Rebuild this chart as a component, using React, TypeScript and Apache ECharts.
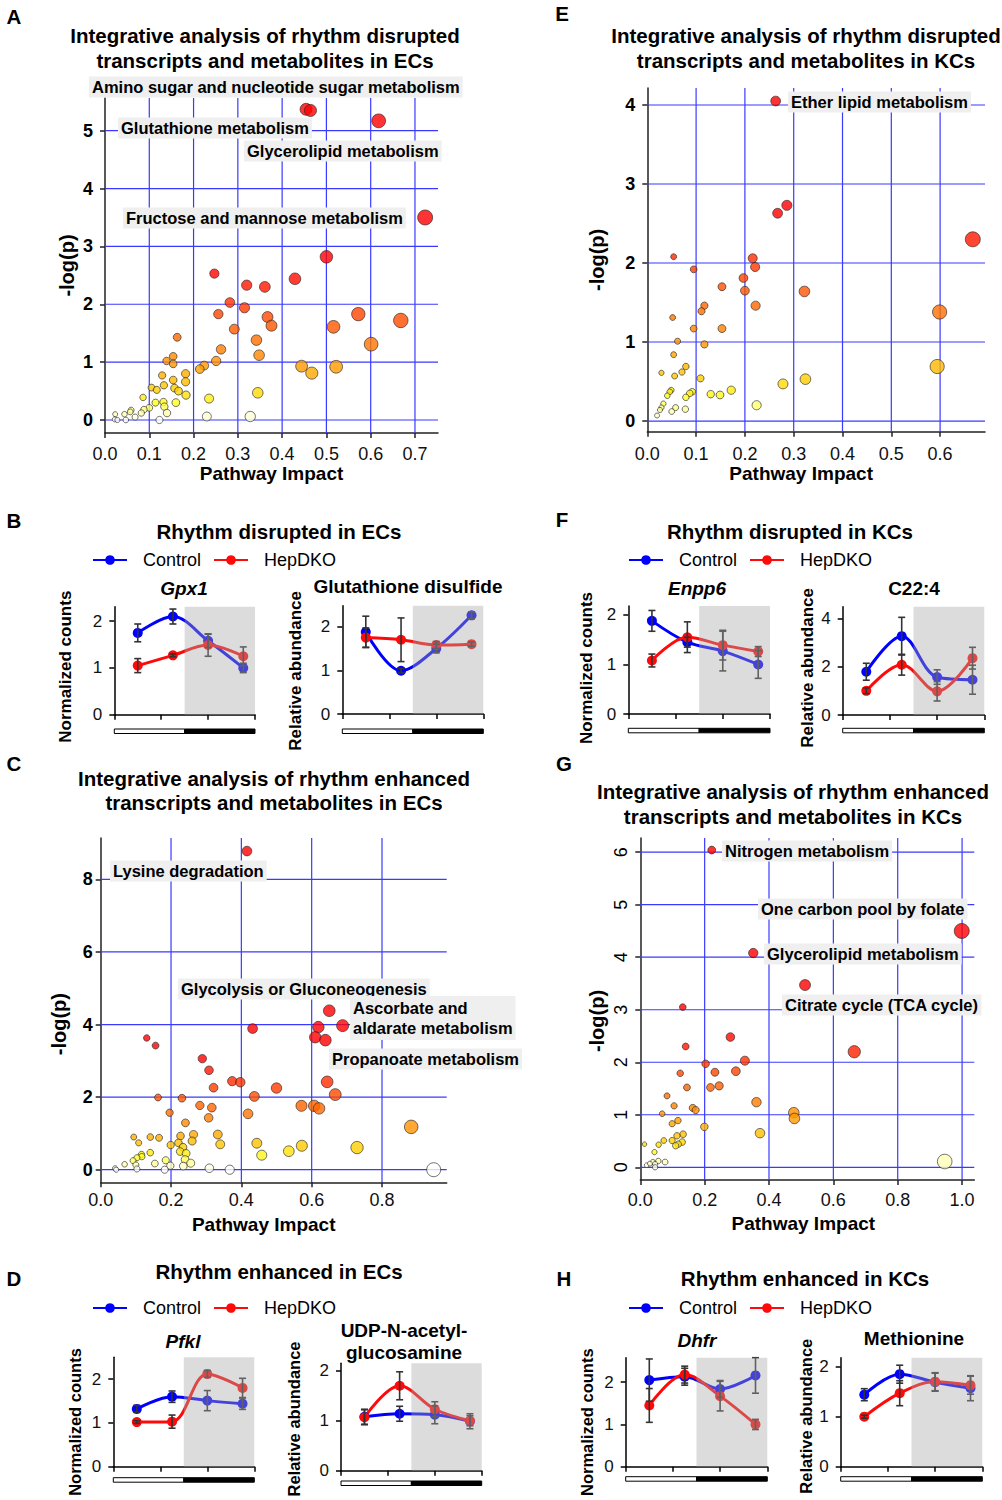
import React, { useEffect, useRef } from 'react';
import * as echarts from 'echarts';

const FONT = '"Liberation Sans", Arial, Helvetica, sans-serif';
const BLUE = '#0000ff';
const RED = '#ff0a0a';
const GRID_BLUE = '#3a3aff';
const AXIS = '#222';

// ---------- Pathway scatter data: [pathway impact, -log(p)] ----------
const ecDisruptedPathways: number[][] = [
  [0.454, 5.37], [0.464, 5.35], [0.618, 5.17], [0.723, 3.5], [0.5, 2.82], [0.247, 2.53], [0.429, 2.44],
  [0.32, 2.33], [0.361, 2.3], [0.282, 2.03], [0.315, 1.94], [0.256, 1.83], [0.572, 1.83], [0.367, 1.78],
  [0.668, 1.72], [0.376, 1.63], [0.516, 1.61], [0.292, 1.57], [0.601, 1.31], [0.342, 1.38], [0.163, 1.43],
  [0.262, 1.22], [0.348, 1.12], [0.154, 1.1], [0.139, 1.02], [0.154, 0.97], [0.251, 1.02], [0.224, 0.94],
  [0.214, 0.88], [0.444, 0.93], [0.467, 0.81], [0.522, 0.92], [0.129, 0.77], [0.182, 0.8], [0.154, 0.69],
  [0.182, 0.66], [0.133, 0.6], [0.105, 0.56], [0.117, 0.52], [0.157, 0.55], [0.166, 0.5], [0.183, 0.43],
  [0.345, 0.47], [0.235, 0.37], [0.086, 0.39], [0.114, 0.3], [0.132, 0.31], [0.16, 0.3], [0.134, 0.23],
  [0.1, 0.21], [0.088, 0.18], [0.14, 0.12], [0.082, 0.12], [0.059, 0.17], [0.057, 0.14], [0.044, 0.1],
  [0.023, 0.1], [0.23, 0.06], [0.328, 0.06], [0.068, 0.05], [0.022, 0.01], [0.028, 0.0], [0.047, 0.0],
  [0.123, 0.0],
];
const kcDisruptedPathways: number[][] = [
  [0.263, 4.05], [0.667, 2.3], [0.286, 2.73], [0.267, 2.63], [0.216, 2.06], [0.221, 1.95], [0.054, 2.08],
  [0.095, 1.92], [0.197, 1.81], [0.153, 1.7], [0.2, 1.65], [0.322, 1.64], [0.222, 1.46], [0.117, 1.46],
  [0.111, 1.39], [0.599, 1.38], [0.052, 1.31], [0.095, 1.17], [0.153, 1.17], [0.062, 1.01], [0.117, 0.97],
  [0.054, 0.84], [0.594, 0.69], [0.079, 0.69], [0.071, 0.62], [0.029, 0.61], [0.056, 0.57], [0.109, 0.54],
  [0.324, 0.53], [0.278, 0.47], [0.172, 0.39], [0.13, 0.34], [0.149, 0.33], [0.092, 0.37], [0.087, 0.35],
  [0.049, 0.39], [0.046, 0.37], [0.041, 0.32], [0.079, 0.3], [0.224, 0.2], [0.033, 0.22], [0.029, 0.17],
  [0.026, 0.14], [0.058, 0.17], [0.078, 0.15], [0.05, 0.12], [0.02, 0.07],
];
const ecEnhancedPathways: number[][] = [
  [0.416, 8.78], [0.65, 4.38], [0.688, 3.97], [0.619, 3.93], [0.61, 3.65], [0.639, 3.57], [0.432, 3.89],
  [0.131, 3.63], [0.156, 3.42], [0.289, 3.06], [0.308, 2.74], [0.374, 2.44], [0.397, 2.41], [0.644, 2.42],
  [0.321, 2.26], [0.5, 2.25], [0.667, 2.07], [0.437, 2.02], [0.163, 1.99], [0.231, 1.97], [0.571, 1.76],
  [0.607, 1.76], [0.621, 1.69], [0.282, 1.77], [0.316, 1.71], [0.196, 1.57], [0.419, 1.54], [0.307, 1.43],
  [0.241, 1.29], [0.883, 1.18], [0.333, 0.97], [0.264, 0.97], [0.227, 0.93], [0.094, 0.9], [0.141, 0.9],
  [0.166, 0.88], [0.108, 0.74], [0.26, 0.79], [0.221, 0.74], [0.444, 0.73], [0.34, 0.7], [0.572, 0.66],
  [0.729, 0.61], [0.199, 0.68], [0.234, 0.62], [0.226, 0.5], [0.535, 0.51], [0.458, 0.4], [0.243, 0.45],
  [0.141, 0.47], [0.116, 0.42], [0.117, 0.36], [0.103, 0.33], [0.24, 0.28], [0.185, 0.26], [0.092, 0.25],
  [0.256, 0.18], [0.154, 0.17], [0.1, 0.13], [0.068, 0.15], [0.198, 0.11], [0.235, 0.1], [0.309, 0.04],
  [0.367, 0.0], [0.182, 0.0], [0.103, 0.02], [0.041, 0.04], [0.044, 0.0], [0.947, 0.0],
];
const kcEnhancedPathways: number[][] = [
  [0.222, 6.04], [0.999, 4.5], [0.351, 4.08], [0.512, 3.47], [0.132, 3.05], [0.28, 2.48], [0.141, 2.3],
  [0.665, 2.2], [0.325, 2.03], [0.203, 1.97], [0.232, 1.81], [0.297, 1.83], [0.124, 1.79], [0.218, 1.52],
  [0.245, 1.55], [0.145, 1.52], [0.361, 1.24], [0.083, 1.36], [0.105, 1.17], [0.163, 1.13], [0.172, 1.09],
  [0.477, 1.04], [0.479, 0.93], [0.068, 1.02], [0.117, 0.89], [0.099, 0.83], [0.199, 0.77], [0.133, 0.63],
  [0.114, 0.6], [0.372, 0.65], [0.073, 0.51], [0.099, 0.51], [0.13, 0.48], [0.118, 0.44], [0.11, 0.41],
  [0.013, 0.44], [0.057, 0.43], [0.044, 0.29], [0.946, 0.11], [0.077, 0.1], [0.056, 0.12], [0.039, 0.1],
  [0.02, 0.04], [0.046, 0.06], [0.03, 0.07], [0.046, 0.0],
];

// ---------- Tick values ----------
const xTicksA = [0, 0.1, 0.2, 0.3, 0.4, 0.5, 0.6, 0.7];
const yTicksA = [0, 1, 2, 3, 4, 5];
const xTicksE = [0, 0.1, 0.2, 0.3, 0.4, 0.5, 0.6];
const yTicksE = [0, 1, 2, 3, 4];
const xTicksC = [0, 0.2, 0.4, 0.6, 0.8];
const yTicksC = [0, 2, 4, 6, 8];
const xTicksG = [0, 0.2, 0.4, 0.6, 0.8, 1.0];
const yTicksG = [0, 1, 2, 3, 4, 5, 6];

// ---------- Time-course data (ZT) ----------
const zt = [4, 10, 16, 22];
const ztTicks = [0, 8, 16, 24];
const gpx1Control = [1.75, 2.1, 1.58, 1.0];
const gpx1ControlSem = [0.19, 0.16, 0.14, 0.1];
const gpx1HepDKO = [1.05, 1.27, 1.49, 1.25];
const gpx1HepDKOSem = [0.15, 0.03, 0.24, 0.2];
const gssgControl = [1.88, 0.99, 1.5, 2.26];
const gssgControlSem = [0.36, 0.05, 0.1, 0.08];
const gssgHepDKO = [1.75, 1.7, 1.58, 1.6];
const gssgHepDKOSem = [0.22, 0.5, 0.08, 0.05];
const enpp6Control = [1.88, 1.45, 1.27, 1.0];
const enpp6ControlSem = [0.21, 0.1, 0.4, 0.28];
const enpp6HepDKO = [1.08, 1.55, 1.39, 1.26];
const enpp6HepDKOSem = [0.13, 0.31, 0.3, 0.1];
const c224Control = [1.79, 3.26, 1.57, 1.46];
const c224ControlSem = [0.35, 0.78, 0.3, 0.6];
const c224HepDKO = [1.0, 2.08, 0.98, 2.35];
const c224HepDKOSem = [0.12, 0.43, 0.4, 0.45];
const pfklControl = [1.32, 1.6, 1.51, 1.44];
const pfklControlSem = [0.08, 0.13, 0.23, 0.13];
const pfklHepDKO = [1.02, 1.03, 2.12, 1.8];
const pfklHepDKOSem = [0.03, 0.15, 0.08, 0.22];
const udpControl = [1.08, 1.14, 1.12, 0.99];
const udpControlSem = [0.15, 0.15, 0.18, 0.15];
const udpHepDKO = [1.07, 1.7, 1.23, 1.0];
const udpHepDKOSem = [0.15, 0.28, 0.15, 0.1];
const dhfrControl = [2.05, 2.13, 1.84, 2.16];
const dhfrControlSem = [0.5, 0.2, 0.2, 0.42];
const dhfrHepDKO = [1.45, 2.18, 1.67, 1.0];
const dhfrHepDKOSem = [0.4, 0.2, 0.35, 0.12];
const metControl = [1.44, 1.85, 1.69, 1.57];
const metControlSem = [0.12, 0.18, 0.18, 0.25];
const metHepDKO = [1.0, 1.47, 1.7, 1.63];
const metHepDKOSem = [0.03, 0.25, 0.18, 0.18];

// ---------- helpers ----------
const heatStops: [number, number[]][] = [
  [0, [255, 255, 255]], [0.12, [255, 255, 176]], [0.3, [255, 255, 32]], [0.5, [255, 210, 0]],
  [0.75, [255, 176, 0]], [1.0, [255, 146, 0]], [1.4, [255, 108, 0]], [1.8, [255, 70, 0]],
  [2.2, [255, 32, 0]], [2.6, [255, 0, 0]],
];
function heat(v: number): string {
  if (v <= 0) return 'rgb(255,255,255)';
  for (let i = 1; i < heatStops.length; i++) {
    const [b, cb] = heatStops[i];
    const [a, ca] = heatStops[i - 1];
    if (v <= b) {
      const t = (v - a) / (b - a);
      const c = ca.map((x, k) => Math.round(x + (cb[k] - x) * t));
      return `rgb(${c[0]},${c[1]},${c[2]})`;
    }
  }
  return 'rgb(255,0,0)';
}

const gridRender = (params: any, api: any) => {
  const cs = params.coordSys;
  const o = api.value(0);
  const v = api.value(1);
  const style = { stroke: GRID_BLUE, lineWidth: 1.2 };
  if (o === 0) {
    const x = api.coord([v, 0])[0];
    return { type: 'line', shape: { x1: x, y1: cs.y, x2: x, y2: cs.y + cs.height }, style };
  }
  const y = api.coord([0, v])[1];
  return { type: 'line', shape: { x1: cs.x, y1: y, x2: cs.x + cs.width, y2: y }, style };
};

const errRender = (params: any, api: any) => {
  const x = api.value(0);
  const lo = api.coord([x, api.value(1)]);
  const hi = api.coord([x, api.value(2)]);
  const w = 3.5;
  const style = { stroke: '#333', lineWidth: 1.6 };
  return {
    type: 'group',
    children: [
      { type: 'line', shape: { x1: hi[0], y1: hi[1], x2: lo[0], y2: lo[1] }, style },
      { type: 'line', shape: { x1: hi[0] - w, y1: hi[1], x2: hi[0] + w, y2: hi[1] }, style },
      { type: 'line', shape: { x1: lo[0] - w, y1: lo[1], x2: lo[0] + w, y2: lo[1] }, style },
    ],
  };
};

const shadeRender = (params: any, api: any) => {
  const cs = params.coordSys;
  const a = api.coord([api.value(0), 0])[0];
  const b = api.coord([api.value(1), 0])[0];
  return {
    type: 'rect',
    shape: { x: a, y: cs.y, width: b - a, height: cs.height },
    style: { fill: 'rgba(168,168,168,0.4)' },
  };
};

const makeBarRender = (offset: number) => (params: any, api: any) => {
  const cs = params.coordSys;
  const a = api.coord([api.value(0), 0])[0];
  const b = api.coord([api.value(1), 0])[0];
  const dark = api.value(2) === 1;
  return {
    type: 'rect',
    shape: { x: a, y: cs.y + cs.height + offset, width: b - a, height: 4.5 },
    style: { fill: dark ? '#000' : '#fff', stroke: '#000', lineWidth: 1 },
  };
};

const scatterPanels = [
  { data: ecDisruptedPathways, left: 105, top: 98, width: 333, height: 335, xMax: 0.752, yMin: -0.225, yMax: 5.565,
    xTicks: xTicksA, yTicks: yTicksA, xMargin: 12, yMargin: 12, yBold: true, yRotate: 0,
    yNameGap: 28, yNamePad: [0, 0, 0, 0], xNameGap: 31, xNamePad: [0, 0, 0, 0], sizeK: 11, colorK: 1 },
  { data: kcDisruptedPathways, left: 647.3, top: 88, width: 337.7, height: 343.7, xMax: 0.692, yMin: -0.135, yMax: 4.215,
    xTicks: xTicksE, yTicks: yTicksE, xMargin: 13, yMargin: 12, yBold: true, yRotate: 0,
    yNameGap: 40, yNamePad: [0, 0, 0, 0], xNameGap: 32, xNamePad: [0, 30, 0, 0], sizeK: 11, colorK: 1 },
  { data: ecEnhancedPathways, left: 100.7, top: 838, width: 346, height: 344.3, xMax: 0.984, yMin: -0.347, yMax: 9.14,
    xTicks: xTicksC, yTicks: yTicksC, xMargin: 9, yMargin: 8, yBold: true, yRotate: 0,
    yNameGap: 32, yNamePad: [0, 28, 0, 0], xNameGap: 33, xNamePad: [0, 20, 0, 0], sizeK: 10, colorK: 0.85 },
  { data: kcEnhancedPathways, left: 640.3, top: 838, width: 334, height: 342, xMax: 1.038, yMin: -0.242, yMax: 6.27,
    xTicks: xTicksG, yTicks: yTicksG, xMargin: 11, yMargin: 10, yBold: false, yRotate: 90,
    yNameGap: 33, yNamePad: [0, 24, 0, 0], xNameGap: 34, xNamePad: [0, 8, 0, 0], sizeK: 11, colorK: 1 },
];

const linePanels = [
  { left: 114.3, top: 606.7, width: 140.7, height: 108, yMax: 2.31, yTicks: [0, 1, 2],
    ctrl: gpx1Control, ctrlErr: gpx1ControlSem, ko: gpx1HepDKO, koErr: gpx1HepDKOSem,
    yName: 'Normalized counts', nameGap: 40, namePad: 12, nameSize: 17, barOffset: 14.3 },
  { left: 342.3, top: 605.7, width: 141, height: 108.3, yMax: 2.48, yTicks: [0, 1, 2],
    ctrl: gssgControl, ctrlErr: gssgControlSem, ko: gssgHepDKO, koErr: gssgHepDKOSem,
    yName: 'Relative abundance', nameGap: 38, namePad: 22, nameSize: 17, barOffset: 15 },
  { left: 628.3, top: 606, width: 141.7, height: 108, yMax: 2.18, yTicks: [0, 1, 2],
    ctrl: enpp6Control, ctrlErr: enpp6ControlSem, ko: enpp6HepDKO, koErr: enpp6HepDKOSem,
    yName: 'Normalized counts', nameGap: 33, namePad: 16, nameSize: 17, barOffset: 14.3 },
  { left: 842.7, top: 606.7, width: 141.6, height: 108.3, yMax: 4.48, yTicks: [0, 2, 4],
    ctrl: c224Control, ctrlErr: c224ControlSem, ko: c224HepDKO, koErr: c224HepDKOSem,
    yName: 'Relative abundance', nameGap: 27, namePad: 14, nameSize: 17, barOffset: 13.3 },
  { left: 113.3, top: 1357.3, width: 141, height: 109.4, yMax: 2.5, yTicks: [0, 1, 2],
    ctrl: pfklControl, ctrlErr: pfklControlSem, ko: pfklHepDKO, koErr: pfklHepDKOSem,
    yName: 'Normalized counts', nameGap: 30, namePad: 20, nameSize: 16.5, barOffset: 11 },
  { left: 341, top: 1363.3, width: 140.7, height: 107.4, yMax: 2.15, yTicks: [0, 1, 2],
    ctrl: udpControl, ctrlErr: udpControlSem, ko: udpHepDKO, koErr: udpHepDKOSem,
    yName: 'Relative abundance', nameGap: 39, namePad: 4, nameSize: 16.5, barOffset: 10.3 },
  { left: 625.7, top: 1357.7, width: 141.6, height: 109, yMax: 2.58, yTicks: [0, 1, 2],
    ctrl: dhfrControl, ctrlErr: dhfrControlSem, ko: dhfrHepDKO, koErr: dhfrHepDKOSem,
    yName: 'Normalized counts', nameGap: 30, namePad: 20, nameSize: 16.5, barOffset: 10 },
  { left: 840.7, top: 1357.7, width: 141.6, height: 109, yMax: 2.18, yTicks: [0, 1, 2],
    ctrl: metControl, ctrlErr: metControlSem, ko: metHepDKO, koErr: metHepDKOSem,
    yName: 'Relative abundance', nameGap: 26, namePad: 8, nameSize: 16.5, barOffset: 10 },
];

const legendPositions = [
  { left: 92, top: 551 }, { left: 628, top: 551 }, { left: 92, top: 1299 }, { left: 628, top: 1299 },
];

type TOpts = { size?: number; weight?: string; italic?: boolean; align?: string; bg?: boolean; lh?: number };
function txt(text: string, x: number, y: number, o: TOpts = {}) {
  const style: any = {
    text, x, y,
    fill: '#000',
    fontFamily: FONT,
    fontSize: o.size ?? 20.5,
    fontWeight: o.weight ?? 'bold',
    fontStyle: o.italic ? 'italic' : 'normal',
    align: o.align ?? 'center',
    verticalAlign: 'middle',
  };
  if (o.lh) style.lineHeight = o.lh;
  if (o.bg) {
    style.backgroundColor = '#efefef';
    style.padding = [2, 3, 2, 3];
  }
  return { type: 'text', z: 50, silent: true, style };
}

function buildOption() {
  const grid: any[] = [];
  const xAxis: any[] = [];
  const yAxis: any[] = [];
  const series: any[] = [];

  scatterPanels.forEach((p) => {
    const i = grid.length;
    grid.push({ left: p.left, top: p.top, width: p.width, height: p.height, containLabel: false, outerBoundsMode: 'none' });
    xAxis.push({
      type: 'value', gridIndex: i, min: 0, max: p.xMax,
      name: 'Pathway Impact', nameLocation: 'middle', nameGap: p.xNameGap,
      nameTextStyle: { fontFamily: FONT, fontWeight: 'bold', fontSize: 19, color: '#000', padding: p.xNamePad },
      axisLine: { show: true, onZero: false, lineStyle: { color: AXIS, width: 1.5 } },
      axisTick: { show: true, customValues: p.xTicks, length: 5, lineStyle: { color: AXIS, width: 1.5 } },
      axisLabel: { customValues: p.xTicks, formatter: (v: number) => v.toFixed(1), fontFamily: FONT, fontSize: 18, color: '#111', margin: p.xMargin },
      splitLine: { show: false },
    });
    yAxis.push({
      type: 'value', gridIndex: i, min: p.yMin, max: p.yMax,
      name: '-log(p)', nameLocation: 'middle', nameGap: p.yNameGap,
      nameTextStyle: { fontFamily: FONT, fontWeight: 'bold', fontSize: 20, color: '#000', padding: p.yNamePad },
      axisLine: { show: true, onZero: false, lineStyle: { color: AXIS, width: 1.5 } },
      axisTick: { show: true, customValues: p.yTicks, length: 5, lineStyle: { color: AXIS, width: 1.5 } },
      axisLabel: { customValues: p.yTicks, formatter: (v: number) => String(v), fontFamily: FONT, fontSize: 18,
        fontWeight: p.yBold ? 'bold' : 'normal', color: '#000', margin: p.yMargin, rotate: p.yRotate },
      splitLine: { show: false },
    });
    series.push({
      type: 'custom', name: 'gridlines', xAxisIndex: i, yAxisIndex: i, z: 1, silent: true,
      renderItem: gridRender,
      data: [...p.xTicks.filter((v) => v > 0).map((v) => [0, v]), ...p.yTicks.map((v) => [1, v])],
    });
    const xm = Math.max(...p.data.map((d) => d[0]));
    series.push({
      type: 'scatter', name: 'pathways', xAxisIndex: i, yAxisIndex: i, z: 3, clip: false, symbol: 'circle',
      itemStyle: { borderColor: '#222', borderWidth: 0.8 },
      data: p.data.map(([x, y]) => ({
        value: [x, y],
        symbolSize: 4 + p.sizeK * Math.pow(x / xm, 0.7),
        itemStyle: { color: heat(y * p.colorK) },
      })),
    });
  });

  linePanels.forEach((p) => {
    const i = grid.length;
    grid.push({ left: p.left, top: p.top, width: p.width, height: p.height, containLabel: false, outerBoundsMode: 'none' });
    xAxis.push({
      type: 'value', gridIndex: i, min: 0, max: 24,
      axisLine: { show: true, onZero: false, lineStyle: { color: '#000', width: 1.5 } },
      axisTick: { show: true, customValues: ztTicks, length: 5, lineStyle: { color: '#000', width: 1.5 } },
      axisLabel: { show: false, customValues: ztTicks },
      splitLine: { show: false },
    });
    yAxis.push({
      type: 'value', gridIndex: i, min: 0, max: p.yMax,
      name: p.yName, nameLocation: 'middle', nameGap: p.nameGap,
      nameTextStyle: { fontFamily: FONT, fontWeight: 'bold', fontSize: p.nameSize, color: '#000', padding: [0, p.namePad, 0, 0] },
      axisLine: { show: true, onZero: false, lineStyle: { color: '#000', width: 1.5 } },
      axisTick: { show: true, customValues: p.yTicks, length: 5, lineStyle: { color: '#000', width: 1.5 } },
      axisLabel: { customValues: p.yTicks, formatter: (v: number) => String(v), fontFamily: FONT, fontSize: 17, color: '#111', margin: 12 },
      splitLine: { show: false },
    });
    const common = { xAxisIndex: i, yAxisIndex: i };
    series.push({
      ...common, type: 'line', name: 'Control', z: 2, smooth: 0.35, symbol: 'circle', symbolSize: 10,
      lineStyle: { width: 3, color: BLUE }, itemStyle: { color: BLUE },
      data: zt.map((t, j) => [t, p.ctrl[j]]),
    });
    series.push({
      ...common, type: 'line', name: 'HepDKO', z: 2, smooth: 0.35, symbol: 'circle', symbolSize: 10,
      lineStyle: { width: 3, color: RED }, itemStyle: { color: RED },
      data: zt.map((t, j) => [t, p.ko[j]]),
    });
    series.push({
      ...common, type: 'custom', name: 'sem', z: 3, silent: true, renderItem: errRender,
      data: [
        ...zt.map((t, j) => [t, p.ctrl[j] - p.ctrlErr[j], p.ctrl[j] + p.ctrlErr[j]]),
        ...zt.map((t, j) => [t, p.ko[j] - p.koErr[j], p.ko[j] + p.koErr[j]]),
      ],
    });
    series.push({
      ...common, type: 'custom', name: 'dark phase', z: 6, silent: true, renderItem: shadeRender,
      data: [[12, 24]],
    });
    series.push({
      ...common, type: 'custom', name: 'light/dark', z: 6, silent: true, renderItem: makeBarRender(p.barOffset),
      data: [[0, 12, 0], [12, 24, 1]],
    });
  });

  const legend = legendPositions.map((l) => ({
    data: ['Control', 'HepDKO'], left: l.left, top: l.top, orient: 'horizontal', padding: 0,
    itemWidth: 34, itemHeight: 12, itemGap: 12, selectedMode: false,
    textStyle: { fontFamily: FONT, fontSize: 18, color: '#000', padding: [0, 0, 0, 11] },
  }));

  const graphic: any[] = [
    // panel letters
    txt('A', 14, 16), txt('E', 562, 13), txt('B', 14, 520), txt('F', 562, 519),
    txt('C', 14, 763), txt('G', 564, 763), txt('D', 14, 1278), txt('H', 564, 1278),
    // scatter titles
    txt('Integrative analysis of rhythm disrupted', 265, 35), txt('transcripts and metabolites in ECs', 265, 60),
    txt('Integrative analysis of rhythm disrupted', 806, 35), txt('transcripts and metabolites in KCs', 806, 60),
    txt('Integrative analysis of rhythm enhanced', 274, 778), txt('transcripts and metabolites in ECs', 274, 802),
    txt('Integrative analysis of rhythm enhanced', 793, 791), txt('transcripts and metabolites in KCs', 793, 816),
    // line panel titles
    txt('Rhythm disrupted in ECs', 279, 531), txt('Rhythm disrupted in KCs', 790, 531),
    txt('Rhythm enhanced in ECs', 279, 1271), txt('Rhythm enhanced in KCs', 805, 1278),
    // sub titles
    txt('Gpx1', 184, 588, { size: 19, italic: true }), txt('Glutathione disulfide', 408, 586, { size: 19 }),
    txt('Enpp6', 697, 588, { size: 19, italic: true }), txt('C22:4', 914, 588, { size: 19 }),
    txt('Pfkl', 183, 1341, { size: 19, italic: true }), txt('UDP-N-acetyl-', 404, 1330, { size: 19 }),
    txt('glucosamine', 404, 1352, { size: 19 }),
    txt('Dhfr', 697, 1340, { size: 19, italic: true }), txt('Methionine', 914, 1338, { size: 19 }),
    // pathway annotations
    txt('Amino sugar and nucleotide sugar metabolism', 89, 87, { size: 16.5, align: 'left', bg: true }),
    txt('Glutathione metabolism', 118, 128, { size: 16.5, align: 'left', bg: true }),
    txt('Glycerolipid metabolism', 244, 151, { size: 16.5, align: 'left', bg: true }),
    txt('Fructose and mannose metabolism', 123, 218, { size: 16.5, align: 'left', bg: true }),
    txt('Ether lipid metabolism', 788, 102, { size: 16.5, align: 'left', bg: true }),
    txt('Lysine degradation', 110, 871, { size: 16.5, align: 'left', bg: true }),
    txt('Glycolysis or Gluconeogenesis', 178, 989, { size: 16.5, align: 'left', bg: true }),
    txt('Ascorbate and\naldarate metabolism', 350, 1018, { size: 16.5, align: 'left', bg: true, lh: 20 }),
    txt('Propanoate metabolism', 329, 1059, { size: 16.5, align: 'left', bg: true }),
    txt('Nitrogen metabolism', 722, 851, { size: 16.5, align: 'left', bg: true }),
    txt('One carbon pool by folate', 758, 909, { size: 16.5, align: 'left', bg: true }),
    txt('Glycerolipid metabolism', 764, 954, { size: 16.5, align: 'left', bg: true }),
    txt('Citrate cycle (TCA cycle)', 782, 1005, { size: 16.5, align: 'left', bg: true }),
  ];

  return {
    animation: false,
    backgroundColor: '#fff',
    textStyle: { fontFamily: FONT },
    grid, xAxis, yAxis, series, legend, graphic,
  };
}

export default function App() {
  const ref = useRef<HTMLDivElement>(null);
  useEffect(() => {
    document.body.style.margin = '0';
    const chart = echarts.init(ref.current as HTMLDivElement, null, { renderer: 'svg', width: 1002, height: 1500 });
    chart.setOption(buildOption() as any);
    return () => chart.dispose();
  }, []);
  return <div ref={ref} style={{ width: 1002, height: 1500, position: 'absolute', left: 0, top: 0 }} />;
}
